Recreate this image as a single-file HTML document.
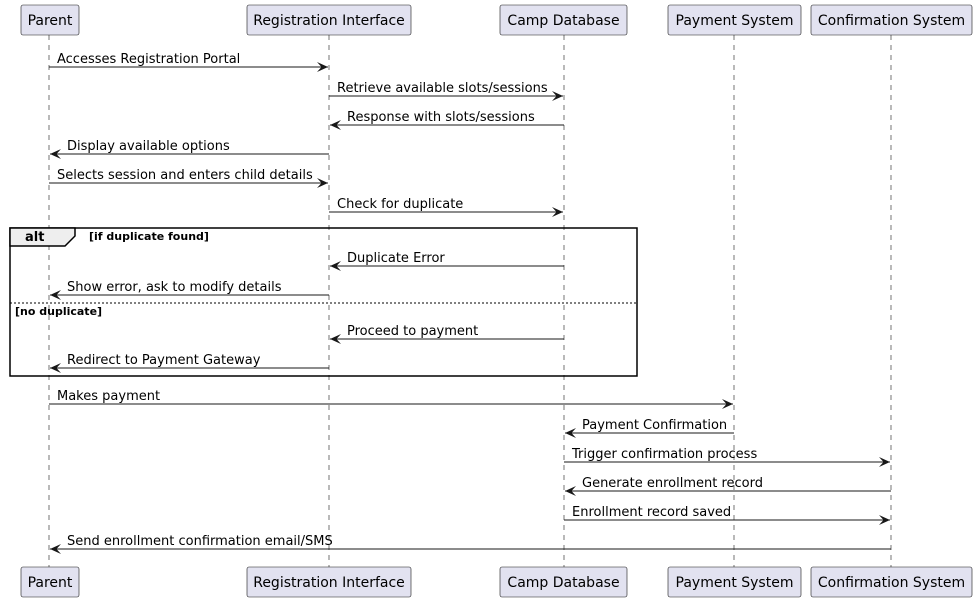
<!DOCTYPE html>
<html><head><meta charset="utf-8"><style>
html,body{margin:0;padding:0;background:#fff;}
svg{display:block;}
text{font-family:"DejaVu Sans","Liberation Sans",sans-serif;fill:#000;}
.p{font-size:14px;}
.m{font-size:13px;}
.b{font-size:11px;font-weight:bold;}
</style></head><body>
<svg width="977" height="602" viewBox="0 0 977 602" xmlns="http://www.w3.org/2000/svg">
<defs>
<marker id="a" viewBox="0 0 11 10" refX="11" refY="5" markerWidth="11" markerHeight="10" orient="auto" markerUnits="userSpaceOnUse">
<path d="M0,0 L11,5 L0,10 L4.5,5 Z" fill="#181818"/>
</marker>
</defs>
<g stroke="#181818" stroke-width="0.6" stroke-dasharray="5,5">
<line x1="49" y1="35" x2="49" y2="567"/>
<line x1="329" y1="35" x2="329" y2="567"/>
<line x1="564" y1="35" x2="564" y2="567"/>
<line x1="734" y1="35" x2="734" y2="567"/>
<line x1="891" y1="35" x2="891" y2="567"/>
</g>
<rect x="10" y="228" width="627" height="148" fill="none" stroke="#000" stroke-width="1.5"/>
<path d="M10,228 L75,228 L75,236 L65,246 L10,246 Z" fill="#eee" stroke="#000" stroke-width="1.5"/>
<text class="b" x="25" y="241" style="font-size:13px">alt</text>
<text class="b" x="89" y="240">[if duplicate found]</text>
<line x1="10" y1="303" x2="637" y2="303" stroke="#000" stroke-width="1" stroke-dasharray="2,2"/>
<text class="b" x="15" y="315">[no duplicate]</text>
<g fill="#e2e2f0" stroke="#181818" stroke-width="0.6">
<rect x="21" y="5" width="58" height="30" rx="2"/>
<rect x="247" y="5" width="164" height="30" rx="2"/>
<rect x="500" y="5" width="127" height="30" rx="2"/>
<rect x="668" y="5" width="133" height="30" rx="2"/>
<rect x="811" y="5" width="161" height="30" rx="2"/>
<rect x="21" y="567" width="58" height="30" rx="2"/>
<rect x="247" y="567" width="164" height="30" rx="2"/>
<rect x="500" y="567" width="127" height="30" rx="2"/>
<rect x="668" y="567" width="133" height="30" rx="2"/>
<rect x="811" y="567" width="161" height="30" rx="2"/>
</g>
<g class="p" text-anchor="middle">
<text x="50" y="25">Parent</text>
<text x="329" y="25">Registration Interface</text>
<text x="563.5" y="25">Camp Database</text>
<text x="734.5" y="25">Payment System</text>
<text x="891.5" y="25">Confirmation System</text>
<text x="50" y="587">Parent</text>
<text x="329" y="587">Registration Interface</text>
<text x="563.5" y="587">Camp Database</text>
<text x="734.5" y="587">Payment System</text>
<text x="891.5" y="587">Confirmation System</text>
</g>
<g stroke="#181818" stroke-width="1" marker-end="url(#a)">
<line x1="49" y1="67" x2="328" y2="67"/>
<line x1="329" y1="96" x2="563" y2="96"/>
<line x1="564" y1="125" x2="330" y2="125"/>
<line x1="329" y1="154" x2="50" y2="154"/>
<line x1="49" y1="183" x2="328" y2="183"/>
<line x1="329" y1="212" x2="563" y2="212"/>
<line x1="564" y1="266" x2="330" y2="266"/>
<line x1="329" y1="295" x2="50" y2="295"/>
<line x1="564" y1="339" x2="330" y2="339"/>
<line x1="329" y1="368" x2="50" y2="368"/>
<line x1="49" y1="404" x2="733" y2="404"/>
<line x1="734" y1="433" x2="565" y2="433"/>
<line x1="564" y1="462" x2="890" y2="462"/>
<line x1="891" y1="491" x2="565" y2="491"/>
<line x1="564" y1="520" x2="890" y2="520"/>
<line x1="891" y1="549" x2="50" y2="549"/>
</g>
<g class="m">
<text x="57" y="63">Accesses Registration Portal</text>
<text x="337" y="92">Retrieve available slots/sessions</text>
<text x="347" y="121">Response with slots/sessions</text>
<text x="67" y="150">Display available options</text>
<text x="57" y="179">Selects session and enters child details</text>
<text x="337" y="208">Check for duplicate</text>
<text x="347" y="262">Duplicate Error</text>
<text x="67" y="291">Show error, ask to modify details</text>
<text x="347" y="335">Proceed to payment</text>
<text x="67" y="364">Redirect to Payment Gateway</text>
<text x="57" y="400">Makes payment</text>
<text x="582" y="429">Payment Confirmation</text>
<text x="572" y="458">Trigger confirmation process</text>
<text x="582" y="487">Generate enrollment record</text>
<text x="572" y="516">Enrollment record saved</text>
<text x="67" y="545">Send enrollment confirmation email/SMS</text>
</g>
</svg>
</body></html>
